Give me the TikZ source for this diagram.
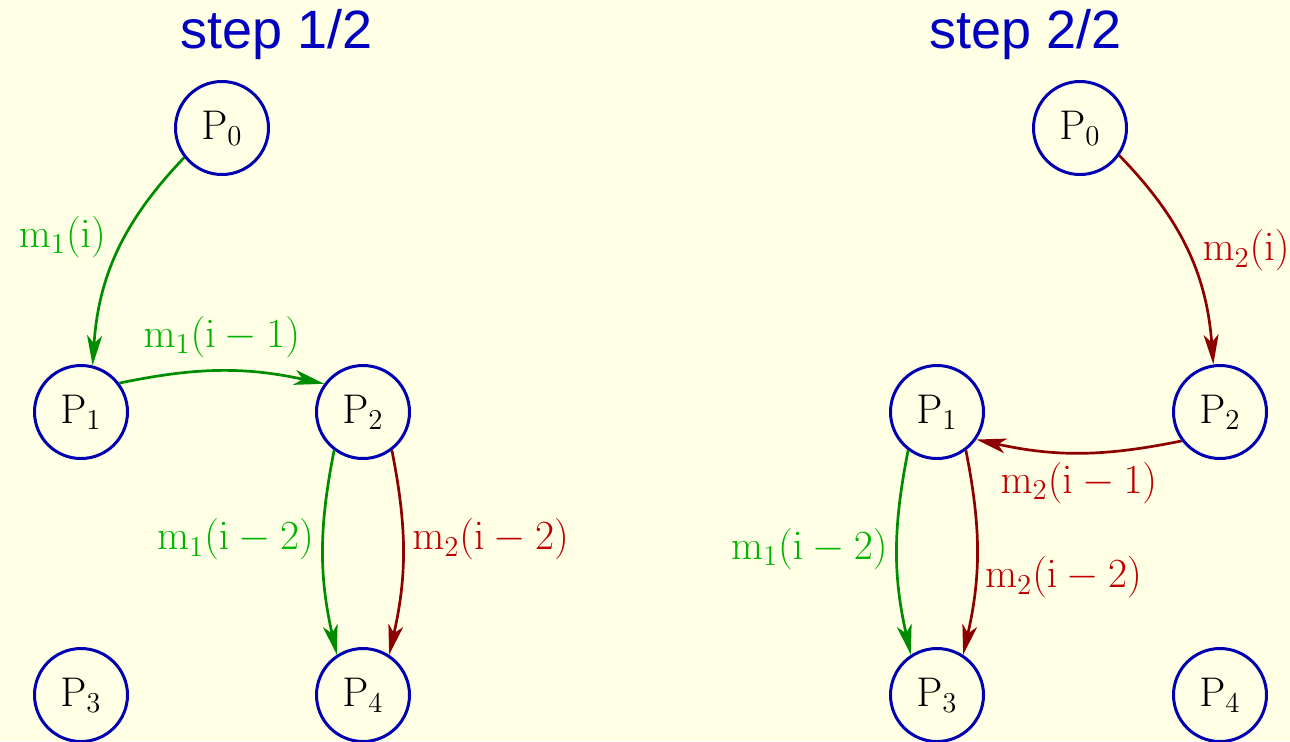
\documentclass[tikz,border=0pt]{standalone}
\usepackage[no-math]{fontspec}
\usetikzlibrary{arrows.meta}
\newfontfamily\titlefont{Liberation Sans}
\definecolor{bgc}{RGB}{255,255,230}
\definecolor{nodeblue}{RGB}{0,0,178}
\definecolor{titleblue}{RGB}{0,0,190}
\definecolor{gline}{RGB}{0,140,0}
\definecolor{glab}{RGB}{0,180,0}
\definecolor{rline}{RGB}{140,0,0}
\definecolor{rlab}{RGB}{190,0,0}
\newcommand{\msg}[2]{$\mathrm{m}_{#1}(\mathrm{i}#2)$}
\newcommand{\proc}[1]{$\mathrm{P}_{#1}$}
\tikzset{
  proc/.style={circle, draw=nodeblue, line width=1.5pt, minimum size=46.5pt, inner sep=0pt,
    font=\fontsize{20}{24}\selectfont},
  ttl/.style={text=titleblue, font=\titlefont\fontsize{27}{32}\selectfont},
  garr/.style={draw=gline, line width=1.35pt, -{Stealth[length=15pt,width=7.5pt,inset=4pt]}},
  rarr/.style={draw=rline, line width=1.35pt, -{Stealth[length=15pt,width=7.5pt,inset=4pt]}},
  glabel/.style={text=glab, font=\fontsize{20.5}{24}\selectfont, inner sep=3pt},
  rlabel/.style={text=rlab, font=\fontsize{20.5}{24}\selectfont, inner sep=3pt},
}
\begin{document}
\begin{tikzpicture}[x=0.5pt,y=-0.5pt]
\fill[bgc] (0,0) rectangle (1290,741);
\useasboundingbox (0,0) rectangle (1290,741);
% titles
\node[ttl] (t1) at (277,35) {step 1/2};
\node[ttl] (t2) at (1026,35) {step 2/2};
% left panel
\node[proc] (a0) at (222,128) {\proc{0}};
\node[proc] (a1) at (81,412) {\proc{1}};
\node[proc] (a2) at (363,412) {\proc{2}};
\node[proc] (a3) at (81,695) {\proc{3}};
\node[proc] (a4) at (363,695) {\proc{4}};
\draw[garr] (a0.218) to[bend right=20] node[glabel, pos=0.42, left, xshift=-6pt] {\msg{1}{}} (a1.76);
\draw[garr] (a1.37) to[bend left=12] node[glabel, above, yshift=3pt] {\msg{1}{-1}} (a2.144);
\draw[garr] (a2.233) to[bend right=12] node[glabel, pos=0.43, left, xshift=-1pt] {\msg{1}{-2}} (a4.123);
\draw[rarr] (a2.307) to[bend left=12] node[rlabel, pos=0.43, right, xshift=1pt] {\msg{2}{-2}} (a4.57);
% right panel
\node[proc] (b0) at (1080,128) {\proc{0}};
\node[proc] (b1) at (937,412) {\proc{1}};
\node[proc] (b2) at (1220,412) {\proc{2}};
\node[proc] (b3) at (937,695) {\proc{3}};
\node[proc] (b4) at (1220,695) {\proc{4}};
\draw[rarr] (b0.-35) to[bend left=20] node[rlabel, pos=0.5, right, xshift=4pt] {\msg{2}{}} (b2.98);
\draw[rarr] (b2.217) to[bend left=12] node[rlabel, below, yshift=-1pt] {\msg{2}{-1}} (b1.325);
\draw[garr] (b1.233) to[bend right=12] node[glabel, pos=0.48, left, xshift=-1pt] {\msg{1}{-2}} (b3.123);
\draw[rarr] (b1.307) to[bend left=12] node[rlabel, pos=0.63, right, xshift=1pt] {\msg{2}{-2}} (b3.57);
\end{tikzpicture}
\end{document}
